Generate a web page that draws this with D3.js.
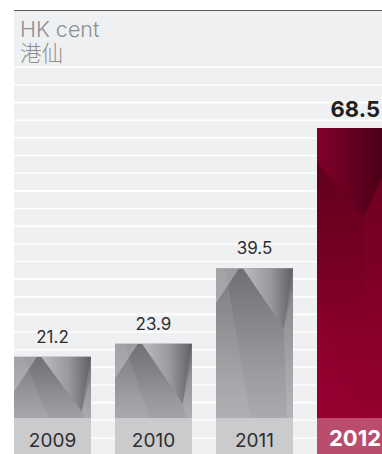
<!DOCTYPE html>
<html>
<head>
<meta charset="utf-8">
<script src="https://cdn.jsdelivr.net/npm/d3@7"></script>
<style>
  html, body { margin: 0; padding: 0; background: #ffffff; }
  svg { display: block; }
  text { font-family: Inter, "Noto Sans", "Noto Sans CJK TC", sans-serif; }
</style>
</head>
<body>
<svg id="chart" width="382" height="454"></svg>
<script>
// Dividend per share, HK cents
const years = ["2009", "2010", "2011", "2012"];
const values = [21.2, 23.9, 39.5, 68.5];
const valueLabels = ["21.2", "23.9", "39.5", "68.5"];
const unitLines = ["HK cent", "港仙"];

const W = 382, H = 454;
const panelLeft = 14, panelTop = 10;
const bandTop = 418;

const svg = d3.select("#chart");
const defs = svg.append("defs");

// background panel with white ruled stripes
svg.append("rect").attr("x", panelLeft).attr("y", panelTop).attr("width", W - panelLeft).attr("height", H - panelTop).attr("fill", "#eff0f2");
svg.append("line").attr("x1", panelLeft).attr("x2", W).attr("y1", panelTop + 0.5).attr("y2", panelTop + 0.5).attr("stroke", "#5a5a5c").attr("stroke-width", 1);

const stripeYs = d3.range(67.3, H, 17.65);
svg.append("g").selectAll("line").data(stripeYs).join("line")
  .attr("x1", panelLeft).attr("x2", W)
  .attr("y1", d => d).attr("y2", d => d)
  .attr("stroke", "#ffffff").attr("stroke-width", 1.6);

// unit caption
svg.append("g").selectAll("text").data(unitLines).join("text")
  .attr("x", 20).attr("y", (d, i) => 37 + i * 24)
  .attr("fill", "#8d8e90").attr("font-size", 21.5).attr("font-weight", 300)
  .text(d => d);

// scales
const x = d3.scaleBand().domain(years).range([panelLeft, panelLeft + 380]).paddingInner(0.2376).paddingOuter(0);
const y = d3.scaleLinear().domain([0, 68.5]).range([459, 128]);

// gradients
function grad(id, horizontal, stops) {
  const g = defs.append("linearGradient").attr("id", id)
    .attr("x1", 0).attr("y1", 0).attr("x2", horizontal ? 1 : 0).attr("y2", horizontal ? 0 : 1);
  stops.forEach(s => g.append("stop").attr("offset", s[0]).attr("stop-color", s[1]));
}
grad("greyBase", false, [[0, "#6f7073"], [0.55, "#9a9b9e"], [1, "#b6b7ba"]]);
grad("greyShine", true, [[0, "#c4c5c8"], [0.55, "#9c9da0"], [1, "#5c5d60"]]);
grad("redBase", false, [[0, "#5a001c"], [0.4, "#760024"], [0.75, "#90002e"], [1, "#980030"]]);
grad("redTop", true, [[0, "#800029"], [0.6, "#5c001e"], [1, "#420014"]]);

const bars = svg.append("g");
years.forEach((yr, i) => {
  const x0 = x(yr), w = x.bandwidth();
  const t = y(values[i]);
  const hot = i === years.length - 1;
  const clipId = "clip" + i;
  defs.append("clipPath").attr("id", clipId).append("rect")
    .attr("x", x0).attr("y", t).attr("width", w).attr("height", H - t);
  const g = bars.append("g").attr("clip-path", `url(#${clipId})`);
  const h = bandTop - t;

  g.append("rect").attr("x", x0).attr("y", t).attr("width", w).attr("height", H - t)
    .attr("fill", hot ? "url(#redBase)" : "url(#greyBase)");

  // faceted overlays
  const pt = (fx, fy) => [x0 + fx * w, t + fy];
  if (hot) {
    // dark top facet with a V-shaped lower edge
    g.append("polygon").attr("points", [pt(0, 0), pt(1, 0), pt(1, 24), pt(0.6, 90), pt(0, 34)].join(" "))
      .attr("fill", "url(#redTop)");
    // narrow lighter sliver on the right below the V
    g.append("polygon").attr("points", [pt(0.6, 90), pt(1, 24), pt(1, 260), pt(0.62, h)].join(" "))
      .attr("fill", "#8a002c").attr("opacity", 0.25);
    g.append("polygon").attr("points", [pt(0, 170), pt(0.45, h), pt(0, h)].join(" "))
      .attr("fill", "#9c0032").attr("opacity", 0.25);
  } else {
    g.append("polygon").attr("points", [pt(0.12, 0), pt(0.45, h), pt(0, h), pt(0, 0)].join(" "))
      .attr("fill", "#ffffff").attr("opacity", 0.08);
    g.append("polygon").attr("points", [pt(0.35, 0), pt(1, 0), pt(0.88, Math.min(60, h * 0.9))].join(" "))
      .attr("fill", "url(#greyShine)").attr("opacity", 0.9);
    g.append("polygon").attr("points", [pt(0, 0), pt(0.3, 0), pt(0, Math.min(35, h * 0.6))].join(" "))
      .attr("fill", "#c8c9cc").attr("opacity", 0.5);
    g.append("polygon").attr("points", [pt(0.88, Math.min(60, h * 0.9)), pt(1, 20), pt(1, h), pt(0.92, h)].join(" "))
      .attr("fill", "#ffffff").attr("opacity", 0.12);
  }

  // lighter label band at the foot of each bar
  g.append("rect").attr("x", x0).attr("y", bandTop).attr("width", w).attr("height", H - bandTop)
    .attr("fill", hot ? "#b94d6b" : "#cbcbcd");

  // year label
  svg.append("text")
    .attr("x", hot ? W - 1 : x0 + w / 2).attr("y", hot ? 446 : 447)
    .attr("text-anchor", hot ? "end" : "middle")
    .attr("fill", hot ? "#ffffff" : "#2e2e30")
    .attr("font-size", hot ? 22 : 19)
    .attr("font-weight", hot ? 700 : 400)
    .text(yr);

  // value label
  svg.append("text")
    .attr("x", hot ? W - 2 : x0 + w / 2).attr("y", t - (hot ? 11 : 14))
    .attr("text-anchor", hot ? "end" : "middle")
    .attr("fill", hot ? "#1f1f21" : "#2e2e30")
    .attr("font-size", hot ? 22 : 17)
    .attr("font-weight", hot ? 700 : 400)
    .text(valueLabels[i]);
});
</script>
</body>
</html>
